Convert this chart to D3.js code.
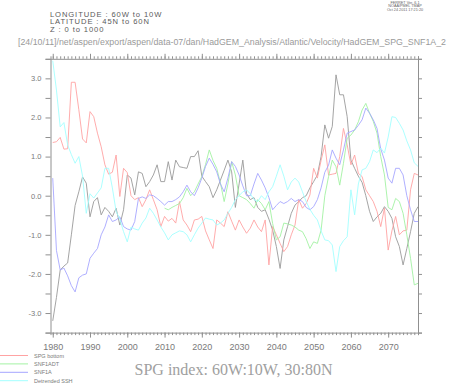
<!DOCTYPE html>
<html><head><meta charset="utf-8">
<script src="https://cdn.jsdelivr.net/npm/d3@7"></script>
<style>body{margin:0;background:#fff}svg{display:block}</style>
</head><body><svg id="c" width="452" height="383"></svg>
<script>
const years = d3.range(1980, 2079);
const greenStart = 2010;
const xTicksMajor = [1980,1990,2000,2010,2020,2030,2040,2050,2060,2070];
const yTickLabels = [-3, -2, -1, 0, 1, 2, 3];

const blackSeries = [-3.2,-2.6,-1.9,-1.8,-1.72,-1.0,-0.25,0.1,0.48,0.32,
 -0.54,-0.15,-0.05,-0.49,-0.3,-0.4,-0.54,-0.32,-0.75,-0.36,
 0.53,0.45,0.02,0.61,0.57,0.23,0.36,0.53,0.79,0.36,
 0.36,0.87,0.4,0.91,0.74,0.72,0.7,1.0,1.0,1.15,
 0.5,0.36,0.23,-0.05,0.15,0.4,0.65,0.91,0.61,-0.3,
 0.3,0.91,0.05,-0.1,-0.05,-0.3,-0.4,-0.36,-0.6,-0.88,
 -1.3,-1.86,-1.13,-0.79,-0.45,-0.24,-0.15,-0.05,0.0,0.2,
 0.36,0.53,1.0,1.81,1.47,1.77,3.09,2.58,2.58,2.02,
 0.91,0.7,0.5,0.34,0.0,-0.4,-0.66,-0.54,-0.45,-0.28,
 -0.4,-0.58,-1.05,-1.3,-1.77,-1.35,-0.92,-0.45,-0.28];

const spgBottom = [1.36,1.38,1.49,1.19,1.2,2.9,2.9,2.2,1.45,1.35,
 2.15,2.02,1.6,1.25,0.79,0.55,0.6,1.04,-0.02,0.7,
 0.59,0.0,-0.1,-0.05,-0.28,-0.1,0.15,-0.1,-0.36,-0.79,
 -0.53,-0.65,-0.58,-0.7,-0.15,-0.62,-0.75,-0.92,-0.62,-0.6,
 -0.53,-0.9,-1.13,-1.35,-0.62,-0.7,-0.79,-0.41,-0.65,-0.88,
 -0.62,-0.8,-0.96,-0.83,-0.62,-0.8,-0.92,-0.62,-1.77,-0.79,
 -1.0,-1.22,-1.43,-1.3,-1.0,-0.75,-0.1,-0.32,-0.2,0.02,
 0.7,0.45,0.9,1.3,0.53,0.55,0.57,1.0,1.72,1.3,
 0.79,1.04,0.57,0.49,0.15,0.0,-0.15,-0.4,-0.79,-0.32,
 -1.39,-0.9,-0.53,-1.0,-0.9,-0.88,0.15,0.57,0.53];

const snf1adt = [-0.32,-0.36,-0.3,-0.25,-0.2,-0.05,0.19,0.0,0.1,0.3,
 0.49,0.8,1.17,0.9,0.7,0.32,-0.15,0.3,0.87,0.53,
 0.0,-0.05,-0.1,-0.2,-0.32,-0.1,-0.2,-0.36,-0.15,-0.71,
 -1.13,-1.05,-0.7,-0.72,-0.75,-0.8,-0.88,-0.92,-1.1,-1.35,
 -1.18,-1.22,-0.88,0.0,0.49,0.91,0.74,0.27,0.83,1.47,
 1.55,1.68,1.89,2.19,2.36,2.11,1.9,1.6,1.0,0.53,
 -0.3,-0.36,-0.07,-0.15,-0.45,-1.0,-1.6,-2.28,-2.24];

const snf1a = [0.45,-1.4,-1.9,-1.85,-2.05,-2.3,-2.46,-2.1,-2.03,-2.0,
 -1.6,-1.47,-1.35,-1.0,-0.8,-0.49,-0.66,-0.62,-0.54,-0.79,
 -0.85,-0.88,-0.66,-0.07,-0.03,-0.07,0.02,0.0,-0.07,-0.15,
 -0.24,-0.15,-0.15,-0.1,-0.03,0.1,0.27,0.1,0.0,0.2,
 0.45,0.75,0.96,0.8,0.61,0.3,0.1,0.45,0.87,0.75,
 0.53,0.25,0.0,0.0,0.3,0.57,0.4,0.2,-0.05,-0.36,
 -0.25,-0.15,-0.2,-0.15,-0.07,-0.15,-0.1,-0.15,-0.3,-0.36,
 -0.28,-0.1,0.2,0.6,0.78,1.17,0.96,0.79,1.17,1.6,
 1.64,1.68,1.8,1.94,2.24,2.11,1.94,1.72,1.2,0.91,
 0.45,0.32,0.7,0.7,0.53,0.0,-0.36,-0.66,-0.66];

const detrendedSSH = [3.45,2.7,1.76,1.87,1.3,1.05,0.83,1.0,0.5,-0.45,
 0.05,-0.06,0.07,0.2,0.7,0.7,0.2,-0.4,-0.6,-0.92,
 -1.18,-0.8,-0.85,-0.88,-0.7,-0.57,-0.32,-0.45,-0.62,-0.8,
 -0.95,-1.13,-1.0,-0.95,-0.9,-0.92,-1.0,-1.18,-1.0,-0.83,
 -0.7,-0.57,-0.6,-0.62,-0.75,-0.7,-0.62,-0.45,-0.3,-0.1,
 0.0,0.1,0.15,0.05,-0.1,-0.15,0.0,-0.1,0.1,0.23,
 0.5,0.79,0.5,0.15,0.35,0.45,0.35,0.1,-0.15,-0.35,
 -0.5,-0.62,-0.9,-1.13,-1.15,-1.26,-1.94,-1.3,-1.15,-1.05,
 0.15,-0.49,0.3,0.66,0.7,0.87,1.17,1.1,1.22,1.09,
 1.5,2.02,2.0,1.85,1.68,1.4,1.17,0.84,0.75];

const legendLabels = ["SPG bottom", "SNF1ADT", "SNF1A", "Detrended SSH"];
const headerLines = ["LONGITUDE : 60W to 10W", "LATITUDE : 45N to 60N", "Z : 0 to 1000"];
const ferretLines = ["FERRET Ver. 6.1", "NOAA/PMEL TMAP", "Oct 24 2011 17:21:20"];
const pathLabel = "[24/10/11]/net/aspen/export/aspen/data-07/dan/HadGEM_Analysis/Atlantic/Velocity/HadGEM_SPG_SNF1A_2";
const title = "SPG index: 60W:10W, 30:80N";

const svg = d3.select("#c");
const x = d3.scaleLinear().domain([1979.4, 2078.0]).range([50.5, 418]);
const y = d3.scaleLinear().domain([-3.5, 3.5]).range([332.6, 58.8]);
const axisColor = "#909090";
const sans = "'Liberation Sans', Arial, sans-serif";

// header text
svg.selectAll("text.hdr").data(headerLines).join("text")
  .attr("x", 50).attr("y", (d,i) => 16.7 + i*7.5)
  .attr("font-family", sans).attr("font-size", 7.6).attr("letter-spacing", 0.9)
  .attr("fill", "#5a5a5a").text(d => d);
svg.selectAll("text.fer").data(ferretLines).join("text")
  .attr("x", 405).attr("y", (d,i) => 3.8 + i*3.6).attr("text-anchor","middle")
  .attr("font-family", sans).attr("font-size", 3.8).attr("fill", "#666").text(d => d);
svg.append("text").attr("x", 18).attr("y", 45).attr("font-family", sans)
  .attr("font-size", 8.5).attr("fill", "#9a9a9a")
  .attr("textLength", 428).attr("lengthAdjust", "spacingAndGlyphs").text(pathLabel);

function styleAxis(g){
  g.selectAll("path,line").attr("stroke", axisColor).attr("stroke-width", 1);
  g.selectAll("text").attr("fill", "#7a7a7a").attr("font-family", sans);
}
const yTicksAll = d3.range(-3.5, 3.501, 0.5);
const minorYears = d3.range(1980, 2079);

// left axis
svg.append("g").attr("transform","translate(50.5,0)")
  .call(d3.axisLeft(y).tickValues(yTicksAll).tickSizeOuter(0).tickSize(5).tickPadding(4)
    .tickFormat(d => Number.isInteger(d) && yTickLabels.includes(d) ? d.toFixed(1) : ""))
  .call(g => g.selectAll("text").attr("font-size", 7.5))
  .call(styleAxis);
// right axis
svg.append("g").attr("transform","translate(418,0)")
  .call(d3.axisRight(y).tickValues(yTicksAll).tickSizeOuter(0).tickSize(4).tickFormat(""))
  .call(styleAxis);
// bottom axis minor + major
svg.append("g").attr("transform","translate(0,332.6)")
  .call(d3.axisBottom(x).tickValues(minorYears).tickSizeOuter(0).tickSize(2.5).tickFormat(""))
  .call(styleAxis);
svg.append("g").attr("transform","translate(0,332.6)")
  .call(d3.axisBottom(x).tickValues(xTicksMajor).tickSizeOuter(0).tickSize(5).tickPadding(6).tickFormat(d3.format("d")))
  .call(g => g.selectAll("text").attr("font-size", 9))
  .call(g => g.select(".domain").remove())
  .call(styleAxis);
// top axis
svg.append("g").attr("transform","translate(0,58.8)")
  .call(d3.axisTop(x).tickValues(minorYears).tickSizeOuter(0).tickSize(2.5).tickFormat(""))
  .call(styleAxis);
svg.append("g").attr("transform","translate(0,58.8)")
  .call(d3.axisTop(x).tickValues(xTicksMajor).tickSizeOuter(0).tickSize(5).tickFormat(""))
  .call(g => g.select(".domain").remove())
  .call(styleAxis);

// series
const series = [
  {vals: blackSeries, start: years[0], color: "#9a9a9a"},
  {vals: spgBottom, start: years[0], color: "#ffa3a3"},
  {vals: snf1adt, start: greenStart, color: "#a3f2a3"},
  {vals: snf1a, start: years[0], color: "#a6a6ff"},
  {vals: detrendedSSH, start: years[0], color: "#a3ffff"}
];
const line = d3.line().x(d => x(d[0])).y(d => y(d[1]));
const plot = svg.append("g");
series.forEach(s => {
  plot.append("path").datum(s.vals.map((v,i) => [s.start + i, v]))
    .attr("d", line).attr("fill","none").attr("stroke", s.color).attr("stroke-width", 0.9);
});

// legend
const legColors = ["#ffa3a3", "#a3f2a3", "#a6a6ff", "#a3ffff"];
const leg = svg.append("g");
legendLabels.forEach((t,i) => {
  const yy = 355.5 + i*8.4;
  leg.append("line").attr("x1",0).attr("x2",28).attr("y1",yy).attr("y2",yy)
    .attr("stroke", legColors[i]).attr("stroke-width",1);
  leg.append("text").attr("x",34).attr("y",yy+2).attr("font-family",sans)
    .attr("font-size",5.5).attr("fill","#7a7a7a").text(t);
});

// title
svg.append("text").attr("x", 233.5).attr("y", 375).attr("text-anchor","middle")
  .attr("font-family","'Liberation Serif', 'Times New Roman', serif")
  .attr("font-size", 16).attr("fill", "#a0a0a0").text(title);
</script></body></html>
